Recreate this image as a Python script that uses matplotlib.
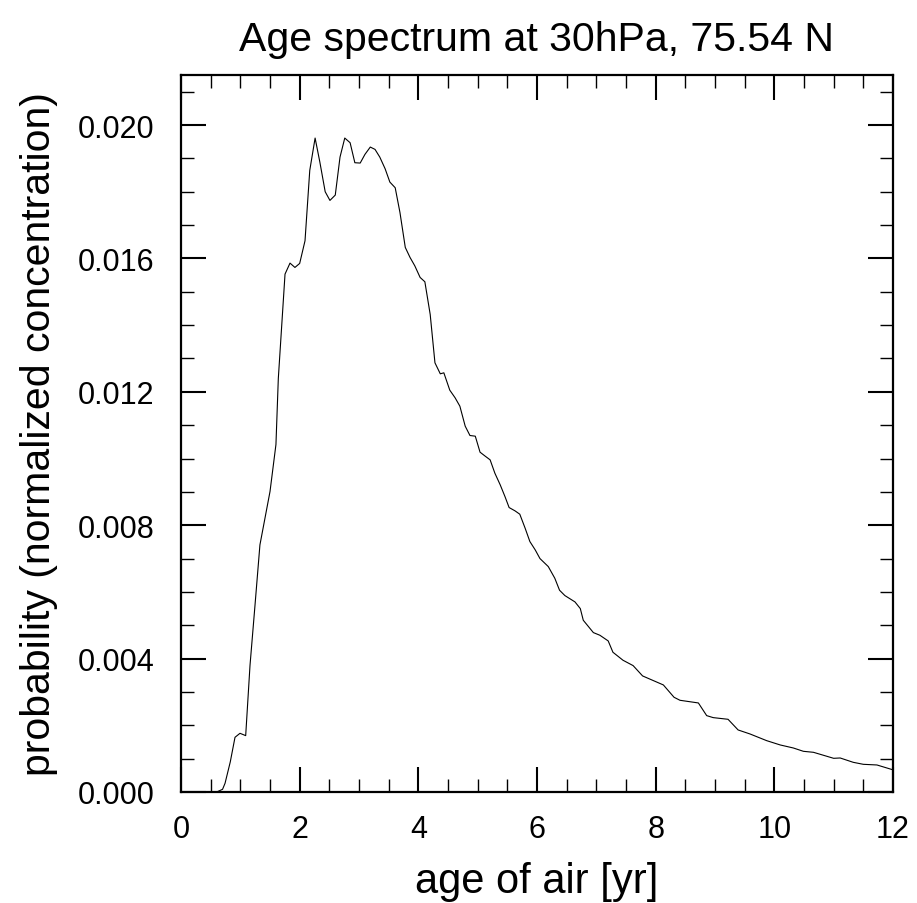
import matplotlib
matplotlib.use("Agg")
import matplotlib.pyplot as plt
from matplotlib.ticker import MultipleLocator, FormatStrFormatter

plt.rcParams["font.family"] = ["Liberation Sans", "DejaVu Sans"]

# age of air [yr] and spectrum values
age = [0.55, 0.60, 0.70, 0.742, 0.83, 0.91, 0.994, 1.09, 1.163, 1.247, 1.33,
       1.50, 1.60, 1.64, 1.753, 1.837, 1.92, 2.00, 2.09, 2.17, 2.26, 2.34,
       2.43, 2.51, 2.60, 2.68, 2.76, 2.85, 2.93, 3.02, 3.10, 3.19, 3.27,
       3.35, 3.44, 3.52, 3.61, 3.69, 3.78, 3.86, 3.94, 4.03, 4.11, 4.20,
       4.28, 4.37, 4.43, 4.53, 4.62, 4.70, 4.79, 4.87, 4.96, 5.04, 5.12,
       5.21, 5.29, 5.38, 5.46, 5.53, 5.63, 5.71, 5.80, 5.88, 5.97, 6.05,
       6.19, 6.30, 6.38, 6.47, 6.64, 6.73, 6.78, 6.95, 7.06, 7.20, 7.28,
       7.45, 7.62, 7.78, 8.13, 8.31, 8.41, 8.72, 8.86, 8.97, 9.22, 9.39,
       9.59, 9.87, 10.10, 10.32, 10.49, 10.66, 11.00, 11.11, 11.33, 11.50,
       11.73, 11.99]
prob = [0.0, 0.0, 0.00008, 0.00026, 0.0009, 0.00164, 0.00176, 0.00169,
        0.0038, 0.0056, 0.00741, 0.00901, 0.01042, 0.0124, 0.01553, 0.01586,
        0.01573, 0.01585, 0.01653, 0.01864, 0.01961, 0.01889, 0.0180,
        0.01774, 0.0179, 0.01904, 0.01961, 0.01947, 0.01887, 0.01886,
        0.01912, 0.01934, 0.01927, 0.01904, 0.01869, 0.01829, 0.01812,
        0.01738, 0.01633, 0.01603, 0.01578, 0.01543, 0.0153, 0.01432,
        0.01287, 0.01254, 0.01257, 0.01205, 0.01182, 0.01157, 0.01097,
        0.01069, 0.01067, 0.01019, 0.01008, 0.00996, 0.00956, 0.00921,
        0.00886, 0.00853, 0.00843, 0.00833, 0.00791, 0.00751, 0.00726,
        0.00700, 0.00676, 0.00641, 0.00605, 0.00589, 0.0057, 0.0055,
        0.00515, 0.00478, 0.0047, 0.00453, 0.00419, 0.00395, 0.00379,
        0.00348, 0.00321, 0.00284, 0.00275, 0.00267, 0.00229, 0.00223,
        0.00218, 0.00186, 0.00174, 0.00154, 0.00141, 0.00132, 0.00122,
        0.00119, 0.00101, 0.00102, 0.00089, 0.00083, 0.00081, 0.00067]

fig = plt.figure(figsize=(9.17, 9.04), dpi=100)
ax = fig.add_axes([0.1974, 0.1228, 0.7764, 0.7931])

ax.plot(age, prob, color="black", lw=0.8)

ax.set_xlim(0, 12)
ax.set_ylim(0, 0.0215)
ax.xaxis.set_major_locator(MultipleLocator(2))
ax.xaxis.set_minor_locator(MultipleLocator(0.5))
ax.yaxis.set_major_locator(MultipleLocator(0.004))
ax.yaxis.set_minor_locator(MultipleLocator(0.001))
ax.yaxis.set_major_formatter(FormatStrFormatter("%.3f"))

ax.tick_params(which="both", direction="in", top=True, right=True,
               labelsize=22, color="black")
ax.tick_params(which="major", length=18, width=1.5)
ax.tick_params(which="minor", length=9.5, width=1.0)
ax.tick_params(axis="x", which="major", pad=16)
ax.tick_params(axis="y", which="major", pad=19)
for s in ax.spines.values():
    s.set_linewidth(1.6)

ax.set_xlabel("age of air [yr]", fontsize=30, labelpad=12)
ax.set_ylabel("probability (normalized concentration)", fontsize=29.5, labelpad=14)
ax.set_title("Age spectrum at 30hPa, 75.54 N", fontsize=29.5, pad=18)

fig.savefig("out.png", dpi=100)
